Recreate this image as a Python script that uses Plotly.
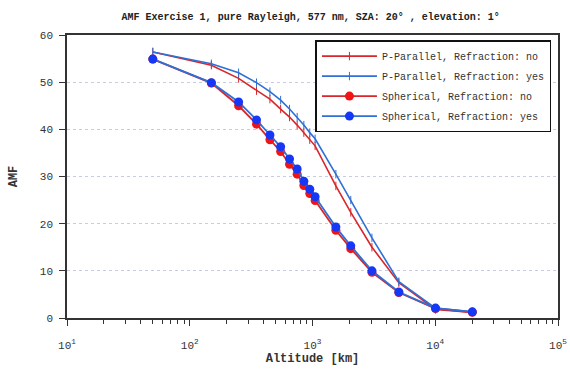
import plotly.graph_objects as go

altitude = [50, 150, 250, 350, 450, 550, 650, 750, 850, 950, 1050, 1550, 2050, 3050, 5050, 10050, 20050]

pp_refr_no  = [56.4, 53.6, 50.8, 48.2, 46.4, 44.3, 42.6, 40.9, 39.3, 37.8, 36.5, 28.0, 22.4, 15.0, 7.5, 1.8, 1.2]
pp_refr_yes = [56.4, 53.9, 52.0, 49.9, 48.0, 46.2, 44.3, 42.6, 40.9, 39.3, 38.0, 30.5, 25.0, 17.0, 7.7, 2.1, 1.3]
sp_refr_no  = [54.9, 49.8, 45.0, 41.1, 37.8, 35.3, 32.6, 30.5, 28.1, 26.4, 24.9, 18.6, 14.7, 9.7, 5.4, 2.0, 1.2]
sp_refr_yes = [54.9, 49.9, 45.8, 42.0, 38.8, 36.3, 33.7, 31.6, 29.0, 27.3, 25.7, 19.3, 15.3, 10.0, 5.5, 2.1, 1.3]

names = ["P-Parallel, Refraction: no", "P-Parallel, Refraction: yes",
         "Spherical, Refraction: no", "Spherical, Refraction: yes"]

x_tickvals = [10, 100, 1000, 10000, 100000]
x_ticktext = ["10<sup>1</sup>", "10<sup>2</sup>", "10<sup>3</sup>", "10<sup>4</sup>", "10<sup>5</sup>"]
x_minorvals = [m * d for d in [10, 100, 1000, 10000] for m in range(2, 10)]
y_tickvals = [0, 10, 20, 30, 40, 50, 60]

RED_L = "#d8262a"
BLUE_L = "#2f6fd6"
RED_M = "#f01414"
BLUE_M = "#1438f5"

fig = go.Figure()
fig.add_trace(go.Scatter(x=altitude, y=pp_refr_no, name=names[0], mode="lines+markers",
                         line=dict(color=RED_L, width=1.6),
                         marker=dict(symbol="line-ns", size=6, line=dict(color=RED_L, width=1)),
                         legendgroup="a"))
fig.add_trace(go.Scatter(x=altitude, y=pp_refr_yes, name=names[1], mode="lines+markers",
                         line=dict(color=BLUE_L, width=1.6),
                         marker=dict(symbol="line-ns", size=6, line=dict(color=BLUE_L, width=1)),
                         legendgroup="b"))
fig.add_trace(go.Scatter(x=altitude, y=sp_refr_no, name=names[2], mode="lines+markers",
                         line=dict(color=RED_L, width=1.8),
                         marker=dict(symbol="circle", size=9, color=RED_M),
                         legendgroup="c"))
fig.add_trace(go.Scatter(x=altitude, y=sp_refr_yes, name=names[3], mode="lines+markers",
                         line=dict(color=BLUE_L, width=1.8),
                         marker=dict(symbol="circle", size=9, color=BLUE_M),
                         legendgroup="d"))

FONT = "Liberation Mono"

# plot-area geometry helpers (pixel -> paper) for the legend drop shadow
L, R, T, B = 67, 12, 35, 54
PW, PH = 570 - L - R, 372 - T - B
def px(x):
    return (x - L) / PW
def py(y):
    return 1 - (y - T) / PH

fig.update_layout(
    width=570, height=372,
    margin=dict(l=L, r=R, t=T, b=B),
    paper_bgcolor="white", plot_bgcolor="white",
    title=dict(text="<b>AMF Exercise 1, pure Rayleigh, 577 nm, SZA: 20° , elevation: 1°</b>",
               x=0.545, xanchor="center", y=0.955, yanchor="middle",
               font=dict(family=FONT, size=10, color="#222")),
    font=dict(family=FONT, size=11, color="#333"),
    showlegend=True,
    legend=dict(x=0.506, y=0.982, xanchor="left", yanchor="top",
                bgcolor="white", bordercolor="#111", borderwidth=1.5,
                font=dict(family=FONT, size=10, color="#333"),
                itemwidth=55, tracegroupgap=1),
    shapes=[dict(type="rect", xref="paper", yref="paper",
                 x0=px(319), x1=px(549.5), y0=py(131.5), y1=py(44),
                 fillcolor="#111", line=dict(width=0), layer="above")],
    xaxis=dict(type="log", range=[1, 5], tickvals=x_tickvals, ticktext=x_ticktext,
               automargin=False,
               showgrid=False, zeroline=False,
               showline=True, linecolor="#333", linewidth=1.5, mirror=True,
               ticks="outside", ticklen=6, tickcolor="#333", tickwidth=1.2,
               ticklabelstandoff=10,
               minor=dict(ticks="outside", ticklen=4, tickcolor="#333", tickvals=x_minorvals, showgrid=False),
               title=dict(text="<b>Altitude [km]</b>", font=dict(family=FONT, size=12, color="#333"), standoff=2)),
    yaxis=dict(range=[0, 60], tickvals=y_tickvals, automargin=False,
               showgrid=True, gridcolor="#c8cce2", griddash="dot", gridwidth=1,
               zeroline=False,
               showline=True, linecolor="#333", linewidth=1.5, mirror=True,
               ticks="outside", ticklen=6, tickcolor="#333", tickwidth=1.2,
               ticklabelstandoff=4,
               title=dict(text="<b>AMF</b>", font=dict(family=FONT, size=12, color="#333"), standoff=20)),
)

fig.write_html("out.html")
